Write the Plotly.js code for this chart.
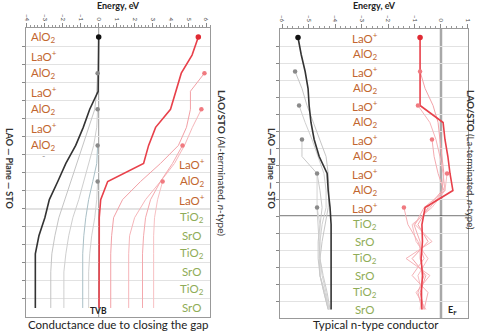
<!DOCTYPE html>
<html><head><meta charset="utf-8">
<script src="https://cdn.plot.ly/plotly-3.0.1.min.js"></script>
<style>html,body{margin:0;padding:0;background:#fff;} #chart{width:477px;height:331px;}</style>
</head><body><div id="chart"></div>
<script>
// ---------- categories / labels ----------
const leftLayers = ['AlO<sub>2</sub>','LaO<sup>+</sup>','AlO<sub>2</sub>','LaO<sup>+</sup>','AlO<sub>2</sub>','LaO<sup>+</sup>','AlO<sub>2</sub>','LaO<sup>+</sup>','AlO<sub>2</sub>','LaO<sup>+</sup>',
                    'TiO<sub>2</sub>','SrO','TiO<sub>2</sub>','SrO','TiO<sub>2</sub>','SrO'];
const rightLayers = ['LaO<sup>+</sup>','AlO<sub>2</sub>','LaO<sup>+</sup>','AlO<sub>2</sub>','LaO<sup>+</sup>','AlO<sub>2</sub>','LaO<sup>+</sup>','AlO<sub>2</sub>','LaO<sup>+</sup>','AlO<sub>2</sub>','LaO<sup>+</sup>',
                     'TiO<sub>2</sub>','SrO','TiO<sub>2</sub>','SrO','TiO<sub>2</sub>','SrO'];
const leftRows  = [1,2,3,4,5,6,7,8,9,10,11,12,13,14,15,16];
const rightRows = [1,2,3,4,5,6,7,8,9,10,11,12,13,14,15,16,17];
const leftLAOCount = 10, rightLAOCount = 11;
const leftBoundaries  = [1.5,2.5,3.5,4.5,5.5,6.5,7.5,8.5,9.5,10.5,11.5,12.5,13.5,14.5,15.5];
const rightBoundaries = [1.5,2.5,3.5,4.5,5.5,6.5,7.5,8.5,9.5,10.5,11.5,12.5,13.5,14.5,15.5,16.5];
const leftEnergyTicks  = [-4,-3,-2,-1,0,1,2,3,4,5,6];
const rightEnergyTicks = [-6,-5,-4,-3,-2,-1,0,1];

// ---------- left panel: Al-terminated (band edges per layer, eV) ----------
const leftStart = [1,3,5,7,9];          // surface layer of each film
const leftVB1 = [0,0,0,-0.03,-0.5,-0.86,-1.28,-1.83,-2.28,-2.75,-3.0,-3.33,-3.53,-3.53,-3.53,-3.53];
const leftVB2 = [-0.06,-0.11,-0.22,-0.56,-0.89,-1.22,-1.56,-1.89,-2.22,-2.44,-2.61,-2.67,-2.67,-2.67];
const leftVB3 = [-0.06,-0.11,-0.28,-0.56,-0.83,-1.11,-1.44,-1.67,-1.83,-1.94,-1.94,-1.94];
const leftVB4 = [-0.06,-0.11,-0.33,-0.56,-0.72,-0.83,-0.89,-0.89,-0.89,-0.89];
const leftVB5 = [-0.06,-0.11,-0.22,-0.39,-0.5,-0.56,-0.56,-0.56];
const leftCB1 = [5.55,5.2,4.6,4.3,4.0,3.17,2.78,2.5,0.5,0.11,0.03,0.03,0.02,0.02,0.02,0.02];
const leftCB2 = [5.89,5.11,5.11,4.89,4.44,3.44,2.33,1.33,0.83,0.72,0.67,0.67,0.67,0.67];
const leftCB3 = [5.72,5.22,4.78,4.22,3.44,2.61,2.0,1.72,1.67,1.67,1.67,1.67];
const leftCB4 = [4.67,4.11,3.44,2.89,2.61,2.5,2.44,2.44,2.44,2.44];
const leftCB5 = [3.56,3.28,3.11,3.06,3.06,3.06,3.06,3.06];

// ---------- right panel: La-terminated ----------
const rightStart = [1,3,5,7,9,11];
const rightVB1 = [-5.40,-5.28,-5.13,-5.02,-4.98,-4.91,-4.79,-4.60,-4.30,-4.26,-4.19,-4.15,-4.15,-4.15,-4.15,-4.15,-4.15];
const rightVB2 = [-5.51,-5.25,-5.06,-4.83,-4.57,-4.34,-4.26,-4.23,-4.26,-4.38,-4.49,-4.57,-4.57,-4.42,-4.26];
const rightVB3 = [-5.36,-5.13,-4.87,-4.64,-4.42,-4.34,-4.34,-4.49,-4.57,-4.60,-4.57,-4.38,-4.23];
const rightVB4 = [-5.25,-5.25,-4.68,-4.57,-4.49,-4.57,-4.64,-4.64,-4.57,-4.42,-4.26];
const rightVB5 = [-4.68,-4.68,-4.68,-4.57,-4.57,-4.57,-4.49,-4.34,-4.23];
const rightVB6 = [-4.68,-4.64,-4.60,-4.57,-4.45,-4.30,-4.19];
const rightCB1 = [-0.79,-0.79,-0.79,-0.79,-0.79,0.08,0.15,0.26,0.34,0.45,-0.6,-0.72,-0.70,-0.75,-0.70,-0.74,-0.72];
const rightCB2 = [-0.79,-0.60,-0.30,-0.11,-0.04,0.04,0.11,0.04,-0.49,-0.87,-0.49,-1.09,-0.57,-0.79,-0.64];
const rightCB3 = [-0.87,-0.42,-0.19,-0.04,0.08,0.15,-0.64,-0.98,-0.34,-1.32,-0.42,-0.94,-0.57];
const rightCB4 = [-0.34,-0.26,-0.11,0.11,-0.42,-1.02,-0.79,-0.79,-0.64,-0.87,-0.72];
const rightCB5 = [0.23,0.15,-0.34,-1.09,-0.94,-0.49,-0.87,-0.72,-0.79];
const rightCB6 = [-1.40,-1.25,-0.87,-0.64,-1.09,-0.49,-0.64];

// ---------- builders ----------
function line(vals, start, rows, xa, ya, color, width){
  const y = rows.slice(start-1, start-1+vals.length);
  return {type:'scatter', mode:'lines', x: vals, y: y, xaxis: xa, yaxis: ya,
          line:{color:color, width:width}, hoverinfo:'skip', showlegend:false};
}
function dot(vals, start, rows, xa, ya, color, size){
  return {type:'scatter', mode:'markers', x:[vals[0]], y:[rows[start-1]], xaxis:xa, yaxis:ya,
          marker:{size:size, color:color}, hoverinfo:'skip', showlegend:false};
}
const grayL = ['#c4c4c4','#cfcfcf','#a9bfc6','#d2d2d2'];
const pinkL = ['#f2a0a6','#f6b6ba','#f4a8ad','#f7c0c3'];
const grayR = ['#c6c6c6','#d0d0d0','#c9c9c9','#d4d4d4','#cccccc'];
const pinkR = ['#f3a2a8','#f6b3b8','#f4aab0','#f7bcc0','#f5b0b5'];

const traces = [];
const lVB = [leftVB2,leftVB3,leftVB4,leftVB5], lCB = [leftCB2,leftCB3,leftCB4,leftCB5];
lVB.forEach((v,i)=>traces.push(line(v,leftStart[i+1],leftRows,'x','y',grayL[i],1)));
lCB.forEach((v,i)=>traces.push(line(v,leftStart[i+1],leftRows,'x','y',pinkL[i],1)));
traces.push(line(leftVB1,leftStart[0],leftRows,'x','y','#333333',1.6));
traces.push(line(leftCB1,leftStart[0],leftRows,'x','y','#e8404a',1.6));
lVB.forEach((v,i)=>traces.push(dot(v,leftStart[i+1],leftRows,'x','y','#8a8a8a',4.5)));
lCB.forEach((v,i)=>traces.push(dot(v,leftStart[i+1],leftRows,'x','y','#f07a80',4.5)));
traces.push(dot(leftVB1,leftStart[0],leftRows,'x','y','#111111',5.5));
traces.push(dot(leftCB1,leftStart[0],leftRows,'x','y','#e02a33',5.5));

const rVB = [rightVB2,rightVB3,rightVB4,rightVB5,rightVB6], rCB = [rightCB2,rightCB3,rightCB4,rightCB5,rightCB6];
rVB.forEach((v,i)=>traces.push(line(v,rightStart[i+1],rightRows,'x2','y2',grayR[i],1)));
rCB.forEach((v,i)=>traces.push(line(v,rightStart[i+1],rightRows,'x2','y2',pinkR[i],1)));
traces.push(line(rightVB1,rightStart[0],rightRows,'x2','y2','#333333',1.6));
traces.push(line(rightCB1,rightStart[0],rightRows,'x2','y2','#e8404a',1.6));
rVB.forEach((v,i)=>traces.push(dot(v,rightStart[i+1],rightRows,'x2','y2','#8a8a8a',4.5)));
rCB.forEach((v,i)=>traces.push(dot(v,rightStart[i+1],rightRows,'x2','y2','#f07a80',4.5)));
traces.push(dot(rightVB1,rightStart[0],rightRows,'x2','y2','#111111',5.5));
traces.push(dot(rightCB1,rightStart[0],rightRows,'x2','y2','#e02a33',5.5));

// ---------- annotations ----------
const LAOcol = '#c2662f', STOcol = '#8fac57';
const FONT = 'Lato, Open Sans, sans-serif';
const ann = [];
leftLayers.forEach((t,i)=>{
  const row = leftRows[i];
  const onLeft = row <= 7;
  ann.push({xref:'x', yref:'y', x: onLeft ? -3.05 : 5.2, y: row, text:t, showarrow:false,
    xanchor:'center', yanchor:'middle',
    font:{family:FONT, size:11.5, color: i < leftLAOCount ? LAOcol : STOcol}});
});
ann.push({xref:'x', yref:'y', x:-3.05, y:7.55, text:'-', showarrow:false, font:{family:FONT, size:9, color:'#999'}});
rightLayers.forEach((t,i)=>{
  ann.push({xref:'x2', yref:'y2', x:-2.87, y:rightRows[i], text:t, showarrow:false,
    xanchor:'center', yanchor:'middle',
    font:{family:FONT, size:11.5, color: i < rightLAOCount ? LAOcol : STOcol}});
});
ann.push({xref:'x', yref:'y', x:0, y:16.15, text:'<b>TVB</b>', showarrow:false, xanchor:'center', yanchor:'middle',
  font:{family:FONT, size:8.5, color:'#222'}});
ann.push({xref:'x2', yref:'y2', x:0.42, y:17.05, text:'<b>E<sub>F</sub></b>', showarrow:false, xanchor:'center', yanchor:'middle',
  font:{family:FONT, size:9, color:'#222'}});
ann.push({xref:'paper', yref:'paper', x:222/477, y:1-163/331, text:'<b>LAO/STO</b> (Al-terminated, <i>n</i>-type)', textangle:90,
  showarrow:false, xanchor:'center', yanchor:'middle', font:{family:FONT, size:10, color:'#333'}});
ann.push({xref:'paper', yref:'paper', x:471/477, y:1-160/331, text:'<b>LAO/STO</b> (La-terminated, <i>n</i>-type)', textangle:90,
  showarrow:false, xanchor:'center', yanchor:'middle', font:{family:FONT, size:9.5, color:'#333'}});
ann.push({xref:'paper', yref:'paper', x:10/477, y:1-168/331, text:'<b>LAO — Plane — STO</b>', textangle:90,
  showarrow:false, xanchor:'center', yanchor:'middle', font:{family:FONT, size:9, color:'#333'}});
ann.push({xref:'paper', yref:'paper', x:272/477, y:1-168/331, text:'<b>LAO — Plane — STO</b>', textangle:90,
  showarrow:false, xanchor:'center', yanchor:'middle', font:{family:FONT, size:9, color:'#333'}});
ann.push({xref:'paper', yref:'paper', x:118/477, y:1-324/331, text:'Conductance due to closing the gap',
  showarrow:false, xanchor:'center', yanchor:'middle', font:{family:FONT, size:11.5, color:'#222'}});
ann.push({xref:'paper', yref:'paper', x:376/477, y:1-324/331, text:'Typical n-type conductor',
  showarrow:false, xanchor:'center', yanchor:'middle', font:{family:FONT, size:11.5, color:'#222'}});

// ---------- shapes ----------
const shapes = [
  {type:'line', xref:'x', yref:'paper', x0:0, x1:0, y0:1-317/331, y1:1-28/331, line:{color:'#9a9a9a', width:1}, layer:'below'},
  {type:'line', xref:'paper', yref:'y', x0:26/477, x1:210/477, y0:leftLAOCount+0.5, y1:leftLAOCount+0.5, line:{color:'#222', width:1}, layer:'below'},
  {type:'line', xref:'x2', yref:'paper', x0:0, x1:0, y0:1-318/331, y1:1-29/331, line:{color:'#a8a8a8', width:2.5}, layer:'below'},
  {type:'line', xref:'paper', yref:'y2', x0:280/477, x1:468/477, y0:rightLAOCount+0.5, y1:rightLAOCount+0.5, line:{color:'#222', width:1}, layer:'below'}
];

function xax(dom, range, ticks, anchor){
  return {domain:dom, range:range, side:'top', anchor:anchor, tickmode:'array', tickvals:ticks, ticks:'outside', ticklen:4, tickwidth:1,
    tickcolor:'#888', tickangle:90, tickfont:{family:FONT, size:6, color:'#444'},
    minor:{tickmode:'linear', dtick:0.2, tick0:0, ticks:'outside', ticklen:2, tickcolor:'#999'},
    showgrid:false, zeroline:false, showline:true, mirror:true, linecolor:'#999', linewidth:1,
    title:{text:'<b>Energy, eV</b>', font:{family:FONT, size:9, color:'#222'}, standoff:4}, fixedrange:true};
}
function yax(dom, range, ticks, anchor){
  return {domain:dom, range:range, anchor:anchor, tickmode:'array', tickvals:ticks, ticks:'outside', ticklen:3, tickcolor:'#888',
    showticklabels:false, showgrid:true, gridcolor:'#e2e2e2', gridwidth:1, zeroline:false,
    showline:true, mirror:true, linecolor:'#999', linewidth:1, fixedrange:true};
}

const layout = {
  width:477, height:331, margin:{l:0,r:0,t:0,b:0}, paper_bgcolor:'#fff', plot_bgcolor:'#fff',
  showlegend:false,
  xaxis: xax([26/477, 210/477], [-4.05, 6.2], leftEnergyTicks, 'y'),
  yaxis: yax([1-317/331, 1-28/331], [16.5, 0.5], leftBoundaries, 'x'),
  xaxis2: xax([280/477, 468/477], [-6.08, 1.02], rightEnergyTicks, 'y2'),
  yaxis2: yax([1-318/331, 1-29/331], [17.5, 0.5], rightBoundaries, 'x2'),
  annotations: ann, shapes: shapes
};
Plotly.newPlot('chart', traces, layout, {displayModeBar:false});
</script></body></html>
